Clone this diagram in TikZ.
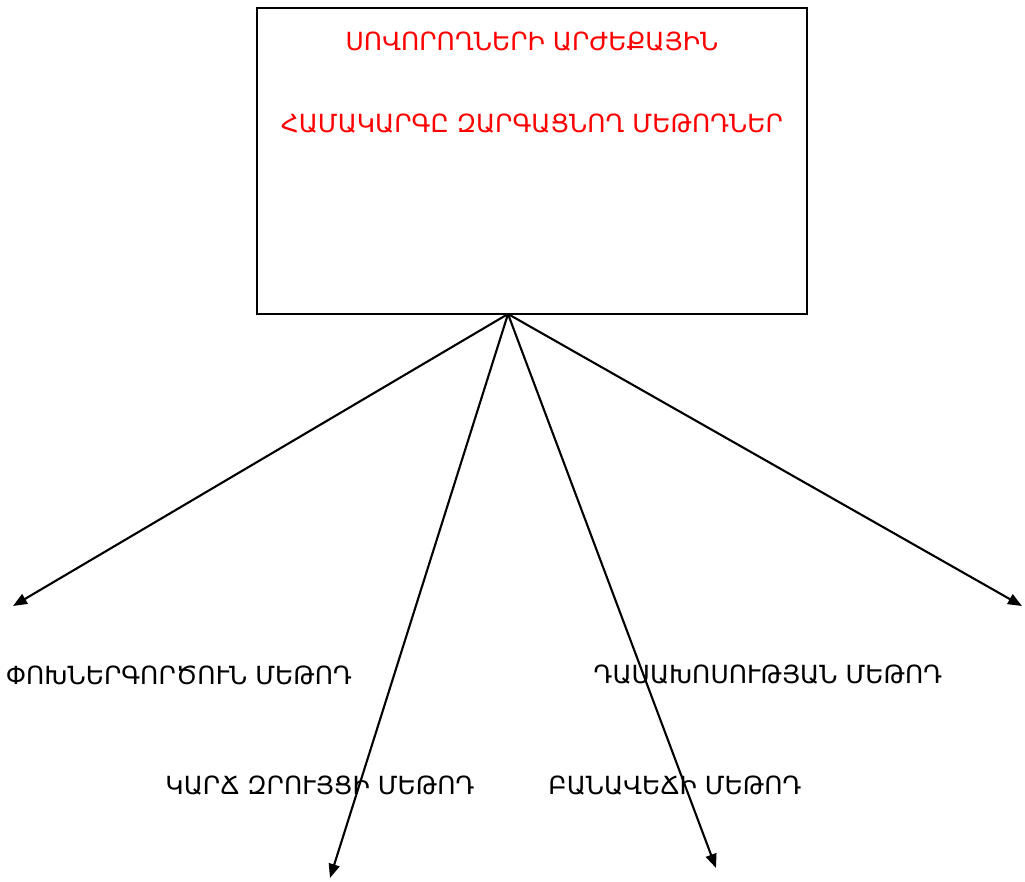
\documentclass[tikz,border=0pt]{standalone}
\usepackage{fontspec}
\setmainfont{DejaVu Sans}
\usetikzlibrary{arrows.meta}
\begin{document}
\begin{tikzpicture}[x=1pt,y=-1pt,
  lbl/.style={inner sep=0pt,anchor=center,font=\fontsize{25}{30}\selectfont},
  ttl/.style={lbl,text=red},
  arr/.style={line width=2.1pt,-{Triangle[length=14pt,width=11pt]}}]
\useasboundingbox (0,0) rectangle (1025,882);
\node[draw,line width=1.8pt,minimum width=550pt,minimum height=306pt,inner sep=0pt] (box) at (532,161) {};
\node[ttl] (t1) at (532,42) {ՍՈՎՈՐՈՂՆԵՐԻ ԱՐԺԵՔԱՅԻՆ};
\node[ttl] (t2) at (532,124) {ՀԱՄԱԿԱՐԳԸ ԶԱՐԳԱՑՆՈՂ ՄԵԹՈԴՆԵՐ};
\coordinate (apex) at (508,314);
\coordinate (e1) at (13,606);
\coordinate (e2) at (330,878);
\coordinate (e3) at (716,868);
\coordinate (e4) at (1022,606);
\draw[arr] (apex) -- (e1);
\draw[arr] (apex) -- (e2);
\draw[arr] (apex) -- (e3);
\draw[arr] (apex) -- (e4);
\node[lbl] (l1) at (179,675) {ՓՈԽՆԵՐԳՈՐԾՈՒՆ ՄԵԹՈԴ};
\node[lbl] (l2) at (768,675) {ԴԱՍԱԽՈՍՈՒԹՅԱՆ ՄԵԹՈԴ};
\node[lbl] (l3) at (320,786) {ԿԱՐՃ ԶՐՈՒՅՑԻ ՄԵԹՈԴ};
\node[lbl] (l4) at (675,786) {ԲԱՆԱՎԵՃԻ ՄԵԹՈԴ};
\end{tikzpicture}
\end{document}
